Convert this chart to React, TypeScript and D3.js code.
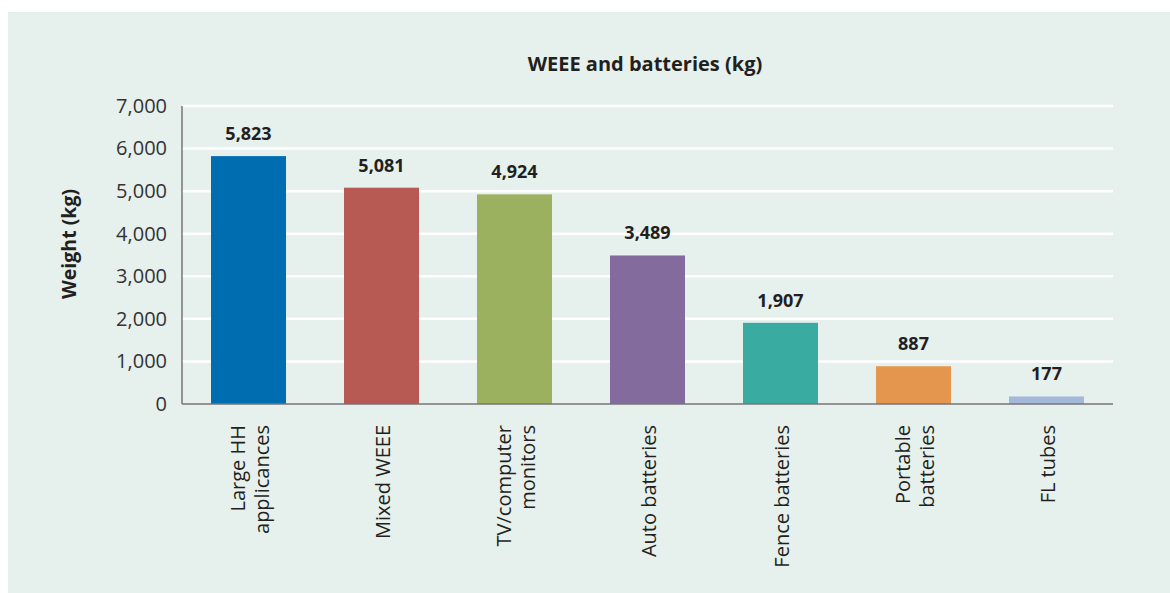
import { useEffect, useRef } from "react";
import { select, scaleBand, scaleLinear, axisLeft, format } from "d3";

const categories = [
  ["Large HH", "applicances"],
  ["Mixed WEEE"],
  ["TV/computer", "monitors"],
  ["Auto batteries"],
  ["Fence batteries"],
  ["Portable", "batteries"],
  ["FL tubes"],
];
const weights = [5823, 5081, 4924, 3489, 1907, 887, 177];
const barColors = ["#006db0", "#b85a54", "#9bb160", "#846b9d", "#3aaba1", "#e4954e", "#a3b8da"];
const yTicks = [0, 1000, 2000, 3000, 4000, 5000, 6000, 7000];

const W = 1170;
const H = 593;
const FONT = "'Open Sans', 'Noto Sans', sans-serif";

export default function App() {
  const svgRef = useRef<SVGSVGElement>(null);

  useEffect(() => {
    const svg = select(svgRef.current);
    svg.selectAll("*").remove();

    const left = 182, right = 1113, top = 106, bottom = 404;
    const fmt = format(",");

    const x = scaleBand<number>()
      .domain(weights.map((_, i) => i))
      .range([left, right])
      .paddingInner(0.436)
      .paddingOuter(0.218);
    const y = scaleLinear().domain([0, 7000]).range([bottom, top]);

    // panel background
    svg.append("rect")
      .attr("x", 8).attr("y", 12)
      .attr("width", W - 8).attr("height", H - 12)
      .attr("fill", "#e6f0ec");

    // grid lines
    svg.append("g")
      .selectAll("line")
      .data(yTicks.filter((t) => t > 0))
      .enter()
      .append("line")
      .attr("x1", left).attr("x2", right)
      .attr("y1", (d) => y(d)).attr("y2", (d) => y(d))
      .attr("stroke", "#ffffff")
      .attr("stroke-width", 2.5);

    // y axis labels
    const yAxisG = svg.append("g")
      .attr("transform", `translate(${left},0)`)
      .call(axisLeft(y).tickValues(yTicks).tickFormat((d) => fmt(d as number)).tickSize(0).tickPadding(15));
    yAxisG.select(".domain").remove();
    yAxisG.selectAll("text")
      .attr("font-family", FONT)
      .attr("font-size", 20)
      .attr("fill", "#333333");

    // bars
    svg.append("g")
      .selectAll("rect")
      .data(weights)
      .enter()
      .append("rect")
      .attr("x", (_, i) => x(i)!)
      .attr("width", x.bandwidth())
      .attr("y", (d) => y(d))
      .attr("height", (d) => y(0) - y(d))
      .attr("fill", (_, i) => barColors[i]);

    // value labels
    svg.append("g")
      .selectAll("text")
      .data(weights)
      .enter()
      .append("text")
      .attr("x", (_, i) => x(i)! + x.bandwidth() / 2)
      .attr("y", (d) => y(d) - 16)
      .attr("text-anchor", "middle")
      .attr("font-family", FONT)
      .attr("font-weight", "bold")
      .attr("font-size", 18)
      .attr("fill", "#231f20")
      .text((d) => fmt(d));

    // axis lines
    svg.append("line")
      .attr("x1", left).attr("x2", left)
      .attr("y1", top).attr("y2", bottom)
      .attr("stroke", "#767676").attr("stroke-width", 1.5);
    svg.append("line")
      .attr("x1", left).attr("x2", right)
      .attr("y1", bottom).attr("y2", bottom)
      .attr("stroke", "#767676").attr("stroke-width", 1.5);

    // category labels (rotated)
    const catG = svg.append("g")
      .selectAll("text")
      .data(categories)
      .enter()
      .append("text")
      .attr("transform", (_, i) => `translate(${x(i)! + x.bandwidth() / 2},425) rotate(-90)`)
      .attr("text-anchor", "end")
      .attr("font-family", FONT)
      .attr("font-size", 20)
      .attr("fill", "#231f20");
    catG.selectAll("tspan")
      .data((d) => d.map((line, j) => ({ line, j, n: d.length })))
      .enter()
      .append("tspan")
      .attr("x", 0)
      .attr("y", (d) => (d.j - (d.n - 1) / 2) * 24 + 8)
      .text((d) => d.line);

    // title
    svg.append("text")
      .attr("x", 645).attr("y", 71)
      .attr("text-anchor", "middle")
      .attr("font-family", FONT)
      .attr("font-weight", "bold")
      .attr("font-size", 20)
      .attr("fill", "#231f20")
      .text("WEEE and batteries (kg)");

    // y axis title
    svg.append("text")
      .attr("transform", "translate(76,244) rotate(-90)")
      .attr("text-anchor", "middle")
      .attr("font-family", FONT)
      .attr("font-weight", "bold")
      .attr("font-size", 19.5)
      .attr("fill", "#231f20")
      .text("Weight (kg)");
  }, []);

  return (
    <div style={{ position: "fixed", left: 0, top: 0, width: W, height: H, background: "#ffffff" }}>
      <svg ref={svgRef} width={W} height={H} viewBox={`0 0 ${W} ${H}`} style={{ display: "block" }} />
    </div>
  );
}
